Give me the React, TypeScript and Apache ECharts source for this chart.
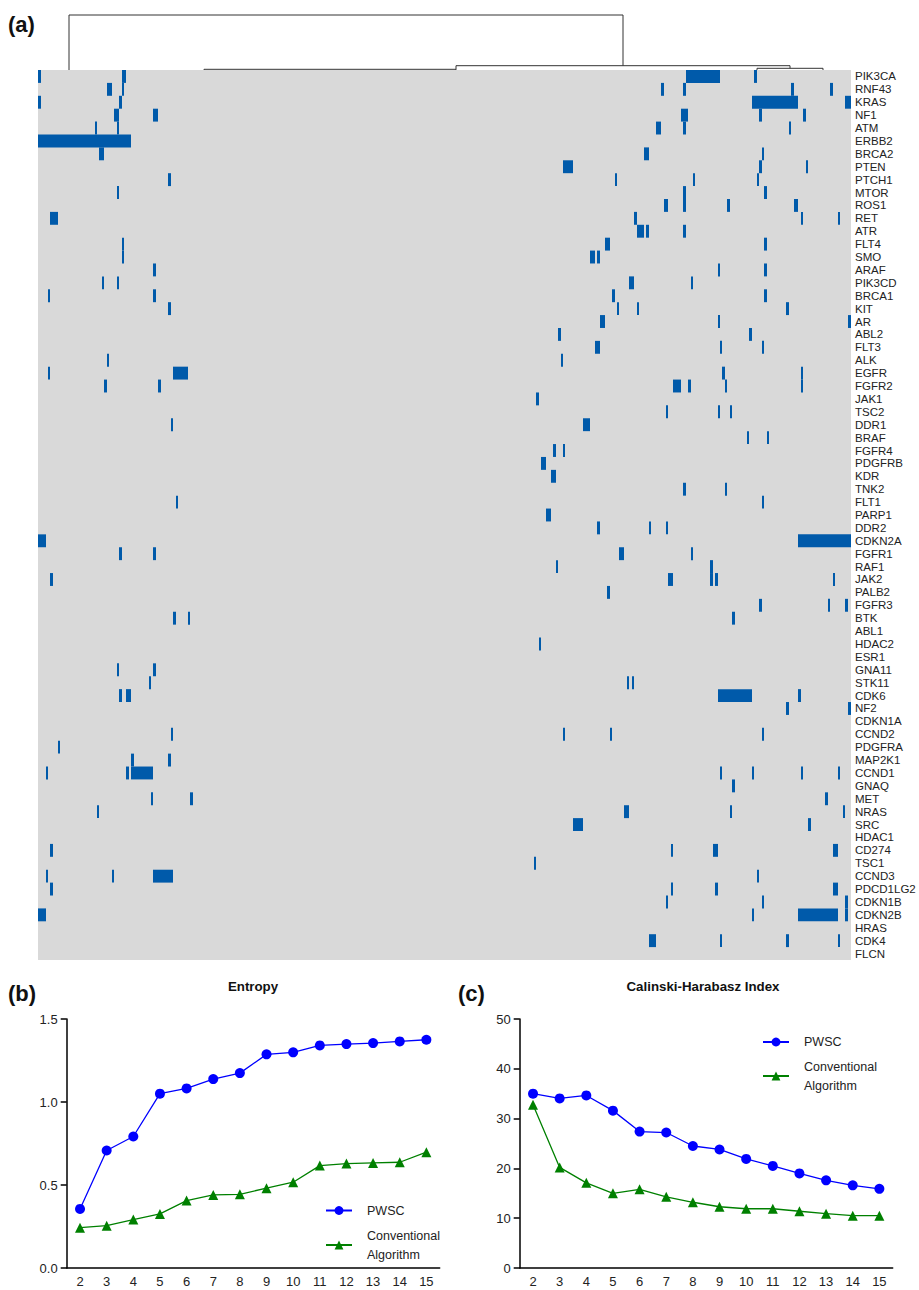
import React, { useEffect, useRef } from 'react';
import * as echarts from 'echarts';

const FONT = 'Liberation Sans, Arial, Helvetica, sans-serif';

const genes = [
  'PIK3CA', 'RNF43', 'KRAS', 'NF1', 'ATM', 'ERBB2', 'BRCA2', 'PTEN', 'PTCH1', 'MTOR',
  'ROS1', 'RET', 'ATR', 'FLT4', 'SMO', 'ARAF', 'PIK3CD', 'BRCA1', 'KIT', 'AR',
  'ABL2', 'FLT3', 'ALK', 'EGFR', 'FGFR2', 'JAK1', 'TSC2', 'DDR1', 'BRAF', 'FGFR4',
  'PDGFRB', 'KDR', 'TNK2', 'FLT1', 'PARP1', 'DDR2', 'CDKN2A', 'FGFR1', 'RAF1', 'JAK2',
  'PALB2', 'FGFR3', 'BTK', 'ABL1', 'HDAC2', 'ESR1', 'GNA11', 'STK11', 'CDK6', 'NF2',
  'CDKN1A', 'CCND2', 'PDGFRA', 'MAP2K1', 'CCND1', 'GNAQ', 'MET', 'NRAS', 'SRC', 'HDAC1',
  'CD274', 'TSC1', 'CCND3', 'PDCD1LG2', 'CDKN1B', 'CDKN2B', 'HRAS', 'CDK4', 'FLCN',
];

// sample axis extent (ordered samples)
const SAMPLE_SPAN = 406.5;

// [gene, first sample, last sample] of altered sample runs
const mutations: [string, number, number][] = [
  ['PIK3CA', 0, 1.5], ['PIK3CA', 42, 44], ['PIK3CA', 324, 341], ['PIK3CA', 358, 359.5],
  ['RNF43', 34.5, 37], ['RNF43', 42, 43], ['RNF43', 311.5, 313], ['RNF43', 322.5, 324], ['RNF43', 376.5, 378], ['RNF43', 396, 397.5],
  ['KRAS', 0, 1.5], ['KRAS', 40.5, 42], ['KRAS', 357, 380], ['KRAS', 403.5, 406.5],
  ['NF1', 38, 40.5], ['NF1', 57.5, 60], ['NF1', 321.5, 325], ['NF1', 360.5, 362], ['NF1', 382.5, 384],
  ['ATM', 28.5, 29.5], ['ATM', 39.5, 40.5], ['ATM', 309, 311.5], ['ATM', 322.5, 324], ['ATM', 375.5, 376.5],
  ['ERBB2', 0, 46.5],
  ['BRCA2', 30.5, 33], ['BRCA2', 303, 305.5], ['BRCA2', 362, 363],
  ['PTEN', 262.5, 267.5], ['PTEN', 360.5, 362], ['PTEN', 384, 385],
  ['PTCH1', 65, 66.5], ['PTCH1', 288.5, 289.5], ['PTCH1', 327.5, 328.5], ['PTCH1', 359.5, 360.5],
  ['MTOR', 39.5, 40.5], ['MTOR', 322.5, 324], ['MTOR', 363, 364.5],
  ['ROS1', 313, 315], ['ROS1', 322.5, 324], ['ROS1', 344.5, 346], ['ROS1', 378, 380],
  ['RET', 6, 10], ['RET', 298, 299.5], ['RET', 381.5, 382.5], ['RET', 400, 401],
  ['ATR', 299.5, 303], ['ATR', 304, 305.5], ['ATR', 322.5, 324],
  ['FLT4', 42, 43], ['FLT4', 283.5, 286], ['FLT4', 363, 364.5],
  ['SMO', 42, 43], ['SMO', 276, 278.5], ['SMO', 279.5, 281],
  ['ARAF', 57.5, 59], ['ARAF', 340, 341], ['ARAF', 363, 364.5],
  ['PIK3CD', 32, 33], ['PIK3CD', 39.5, 40.5], ['PIK3CD', 295.5, 298], ['PIK3CD', 326.5, 327.5],
  ['BRCA1', 5, 6], ['BRCA1', 57.5, 59], ['BRCA1', 287, 288.5], ['BRCA1', 363, 364.5],
  ['KIT', 65, 66.5], ['KIT', 289.5, 290.5], ['KIT', 299.5, 300.5], ['KIT', 374, 375.5],
  ['AR', 281, 283.5], ['AR', 340, 341], ['AR', 405, 406.5],
  ['ABL2', 260, 261.5], ['ABL2', 355.5, 357],
  ['FLT3', 278.5, 281], ['FLT3', 341, 342], ['FLT3', 362, 363],
  ['ALK', 34.5, 35.5], ['ALK', 261.5, 262.5],
  ['EGFR', 5, 6], ['EGFR', 67.5, 75], ['EGFR', 342, 343.5], ['EGFR', 381.5, 382.5],
  ['FGFR2', 33, 34.5], ['FGFR2', 60, 61.5], ['FGFR2', 317.5, 321.5], ['FGFR2', 325, 326.5], ['FGFR2', 343.5, 344.5], ['FGFR2', 381.5, 382.5],
  ['JAK1', 249, 250.5],
  ['TSC2', 314, 315], ['TSC2', 340, 341], ['TSC2', 346, 347],
  ['DDR1', 66.5, 67.5], ['DDR1', 272.5, 276],
  ['BRAF', 354.5, 355.5], ['BRAF', 364.5, 365.5],
  ['FGFR4', 257.5, 259], ['FGFR4', 262.5, 263.5],
  ['PDGFRB', 251.5, 254],
  ['KDR', 256.5, 259],
  ['TNK2', 322.5, 324], ['TNK2', 343.5, 344.5],
  ['FLT1', 69, 70], ['FLT1', 362, 363],
  ['PARP1', 254, 256.5],
  ['DDR2', 279.5, 281], ['DDR2', 305.5, 306.5], ['DDR2', 314, 315],
  ['CDKN2A', 0, 4], ['CDKN2A', 380, 406.5],
  ['FGFR1', 40.5, 42], ['FGFR1', 57.5, 59], ['FGFR1', 290.5, 293], ['FGFR1', 326.5, 327.5],
  ['RAF1', 259, 260], ['RAF1', 336, 337.5],
  ['JAK2', 6, 7.5], ['JAK2', 315, 317.5], ['JAK2', 336, 337.5], ['JAK2', 338.5, 340], ['JAK2', 397.5, 398.5],
  ['PALB2', 284.5, 286],
  ['FGFR3', 360.5, 362], ['FGFR3', 395, 396], ['FGFR3', 403.5, 405],
  ['BTK', 67.5, 69], ['BTK', 75, 76], ['BTK', 347, 348.5],
  ['HDAC2', 250.5, 251.5],
  ['GNA11', 39.5, 40.5], ['GNA11', 57.5, 59],
  ['STK11', 55.5, 56.5], ['STK11', 294.5, 295.5], ['STK11', 297, 298],
  ['CDK6', 40.5, 42], ['CDK6', 44, 46.5], ['CDK6', 340, 357], ['CDK6', 380, 381.5],
  ['NF2', 374, 375.5], ['NF2', 405, 406.5],
  ['CCND2', 66.5, 67.5], ['CCND2', 262.5, 263.5], ['CCND2', 286, 287], ['CCND2', 362, 363],
  ['PDGFRA', 10, 11],
  ['MAP2K1', 46.5, 48], ['MAP2K1', 65, 66.5],
  ['CCND1', 4, 5], ['CCND1', 44, 45.5], ['CCND1', 46.5, 57.5], ['CCND1', 341, 342], ['CCND1', 357, 358], ['CCND1', 381.5, 382.5], ['CCND1', 400, 401],
  ['GNAQ', 347, 348.5],
  ['MET', 56.5, 57.5], ['MET', 76, 77.5], ['MET', 393.5, 395],
  ['NRAS', 29.5, 30.5], ['NRAS', 293, 295.5], ['NRAS', 346, 347], ['NRAS', 402.5, 403.5],
  ['SRC', 267.5, 272.5], ['SRC', 385, 386.5],
  ['CD274', 6, 7.5], ['CD274', 316.5, 317.5], ['CD274', 337.5, 340], ['CD274', 397.5, 400],
  ['TSC1', 248, 249],
  ['CCND3', 4, 5], ['CCND3', 37, 38], ['CCND3', 57.5, 67.5], ['CCND3', 359.5, 360.5],
  ['PDCD1LG2', 6, 7.5], ['PDCD1LG2', 316.5, 317.5], ['PDCD1LG2', 338.5, 340], ['PDCD1LG2', 397.5, 400],
  ['CDKN1B', 314, 315], ['CDKN1B', 362, 363], ['CDKN1B', 403.5, 405],
  ['CDKN2B', 0, 4], ['CDKN2B', 357, 358], ['CDKN2B', 380, 400], ['CDKN2B', 403.5, 405],
  ['CDK4', 305.5, 309], ['CDK4', 341, 342], ['CDK4', 374, 375.5], ['CDK4', 400, 401],
];

// dendrogram merges: [left x, right x, merge height, left child height, right child height]
const dendrogramMerges: [number, number, number, number, number][] = [
  [15.5, 292.5, 55, 0, 4.3],
  [209, 376, 4.3, 0.7, 1.7],
  [83, 209, 0.7, 0, 0],
  [359.5, 392.5, 1.7, 0, 0],
];

const kValues = ['2', '3', '4', '5', '6', '7', '8', '9', '10', '11', '12', '13', '14', '15'];
const entropyPWSC = [0.356, 0.708, 0.792, 1.05, 1.082, 1.138, 1.174, 1.287, 1.299, 1.341, 1.349, 1.355, 1.365, 1.375];
const entropyConventional = [0.243, 0.255, 0.292, 0.326, 0.406, 0.44, 0.444, 0.481, 0.517, 0.617, 0.629, 0.633, 0.637, 0.698];
const chPWSC = [35.0, 34.05, 34.65, 31.6, 27.4, 27.2, 24.5, 23.8, 21.9, 20.5, 19.0, 17.6, 16.6, 15.9];
const chConventional = [32.8, 20.2, 17.1, 15.0, 15.8, 14.3, 13.2, 12.3, 11.9, 11.9, 11.4, 10.9, 10.5, 10.5];

const PWSC = 'PWSC';
const CONV = 'Conventional\nAlgorithm';
const MUT_COLOR = '#005AAA';

function catAxis(gridIndex: number) {
  return {
    gridIndex,
    type: 'category',
    data: kValues,
    boundaryGap: true,
    axisLine: { lineStyle: { color: '#000', width: 1.5 } },
    axisTick: { alignWithLabel: true, length: 5, lineStyle: { color: '#000', width: 1.5 } },
    axisLabel: { fontSize: 13, color: '#222', margin: 7, fontFamily: FONT, interval: 0 },
    splitLine: { show: false },
  };
}

function valAxis(gridIndex: number, max: number, interval: number, digits: number) {
  return {
    gridIndex,
    type: 'value',
    min: 0,
    max,
    interval,
    axisLine: { show: true, lineStyle: { color: '#000', width: 1.5 } },
    axisTick: { show: true, length: 6, lineStyle: { color: '#000', width: 1.5 } },
    axisLabel: {
      fontSize: 13, color: '#222', margin: 9, fontFamily: FONT,
      formatter: (v: number) => v.toFixed(digits),
    },
    splitLine: { show: false },
  };
}

function lineSeries(name: string, data: number[], idx: number, color: string, symbol: string, size: number) {
  return {
    name,
    type: 'line',
    xAxisIndex: idx,
    yAxisIndex: idx,
    data,
    symbol,
    symbolSize: size,
    lineStyle: { color, width: 1.3 },
    itemStyle: { color },
    z: symbol === 'circle' ? 3 : 2,
  };
}

function legendAt(left: number, top: number, gap: number) {
  return {
    orient: 'vertical',
    left,
    top,
    padding: 0,
    itemGap: gap,
    itemWidth: 26,
    itemHeight: 11,
    data: [PWSC, CONV],
    lineStyle: { width: 2 },
    textStyle: { fontSize: 12.5, lineHeight: 19, color: '#222', fontFamily: FONT, padding: [0, 0, 0, 10] },
    selectedMode: false,
  };
}

export default function App() {
  const ref = useRef<HTMLDivElement>(null);
  useEffect(() => {
    if (!ref.current) return;
    const chart = echarts.init(ref.current, null, { renderer: 'svg' });
    const option: any = {
      animation: false,
      backgroundColor: '#fff',
      textStyle: { fontFamily: FONT },
      grid: [
        { left: 38, top: 70, width: 813, height: 890, show: true, backgroundColor: '#d9d9d9', borderWidth: 0 },
        { left: 38, top: 14, width: 813, height: 56 },
        { left: 66.7, top: 1019, width: 373, height: 249 },
        { left: 519.7, top: 1019, width: 373, height: 249 },
      ],
      xAxis: [
        { gridIndex: 0, type: 'value', min: 0, max: SAMPLE_SPAN, show: false },
        { gridIndex: 1, type: 'value', min: 0, max: SAMPLE_SPAN, show: false },
        catAxis(2),
        catAxis(3),
      ],
      yAxis: [
        {
          gridIndex: 0, type: 'category', data: genes, inverse: true, position: 'right',
          axisLine: { show: false }, axisTick: { show: false },
          axisLabel: { margin: 4, fontSize: 11.5, color: '#222', interval: 0, fontFamily: FONT },
        },
        { gridIndex: 1, type: 'value', min: 0, max: 56, show: false },
        valAxis(2, 1.5, 0.5, 1),
        valAxis(3, 50, 10, 0),
      ],
      legend: [legendAt(325, 1201, 6), legendAt(762, 1032.5, 5.5)],
      graphic: [
        { type: 'text', x: 8, y: 24, style: { text: '(a)', fontSize: 22, fontWeight: 'bold', fontFamily: FONT, fill: '#111', verticalAlign: 'middle' } },
        { type: 'text', x: 8, y: 993, style: { text: '(b)', fontSize: 22, fontWeight: 'bold', fontFamily: FONT, fill: '#111', verticalAlign: 'middle' } },
        { type: 'text', x: 458, y: 993, style: { text: '(c)', fontSize: 22, fontWeight: 'bold', fontFamily: FONT, fill: '#111', verticalAlign: 'middle' } },
        { type: 'text', x: 253, y: 986, style: { text: 'Entropy', fontSize: 13.3, fontWeight: 'bold', fontFamily: FONT, fill: '#111', align: 'center', verticalAlign: 'middle' } },
        { type: 'text', x: 703, y: 986, style: { text: 'Calinski-Harabasz Index', fontSize: 13.3, fontWeight: 'bold', fontFamily: FONT, fill: '#111', align: 'center', verticalAlign: 'middle' } },
      ],
      series: [
        {
          type: 'custom',
          name: 'mutations',
          xAxisIndex: 0,
          yAxisIndex: 0,
          data: mutations.map(([g, s, e]) => [s, e, genes.indexOf(g)]),
          encode: { x: [0, 1], y: 2 },
          renderItem: (params: any, api: any) => {
            const p0 = api.coord([api.value(0), api.value(2)]);
            const p1 = api.coord([api.value(1), api.value(2)]);
            const h = api.size([0, 1])[1];
            return {
              type: 'rect',
              shape: { x: p0[0], y: p0[1] - h / 2, width: p1[0] - p0[0], height: h },
              style: { fill: MUT_COLOR },
            };
          },
        },
        {
          type: 'custom',
          name: 'dendrogram',
          xAxisIndex: 1,
          yAxisIndex: 1,
          data: dendrogramMerges,
          encode: { x: [0, 1], y: [2, 3, 4] },
          renderItem: (params: any, api: any) => {
            const xl = api.value(0), xr = api.value(1), h = api.value(2), hl = api.value(3), hr = api.value(4);
            const pts = [api.coord([xl, hl]), api.coord([xl, h]), api.coord([xr, h]), api.coord([xr, hr])];
            return {
              type: 'polyline',
              shape: { points: pts },
              style: { stroke: '#333', lineWidth: 1, fill: null },
            };
          },
        },
        lineSeries(PWSC, entropyPWSC, 2, '#0000FF', 'circle', 10),
        lineSeries(CONV, entropyConventional, 2, '#008000', 'triangle', 10),
        lineSeries(PWSC, chPWSC, 3, '#0000FF', 'circle', 10),
        lineSeries(CONV, chConventional, 3, '#008000', 'triangle', 10),
      ],
    };
    chart.setOption(option);
    return () => chart.dispose();
  }, []);
  return (
    <div
      ref={ref}
      style={{ position: 'absolute', left: 0, top: 0, width: 919, height: 1290 }}
    />
  );
}
